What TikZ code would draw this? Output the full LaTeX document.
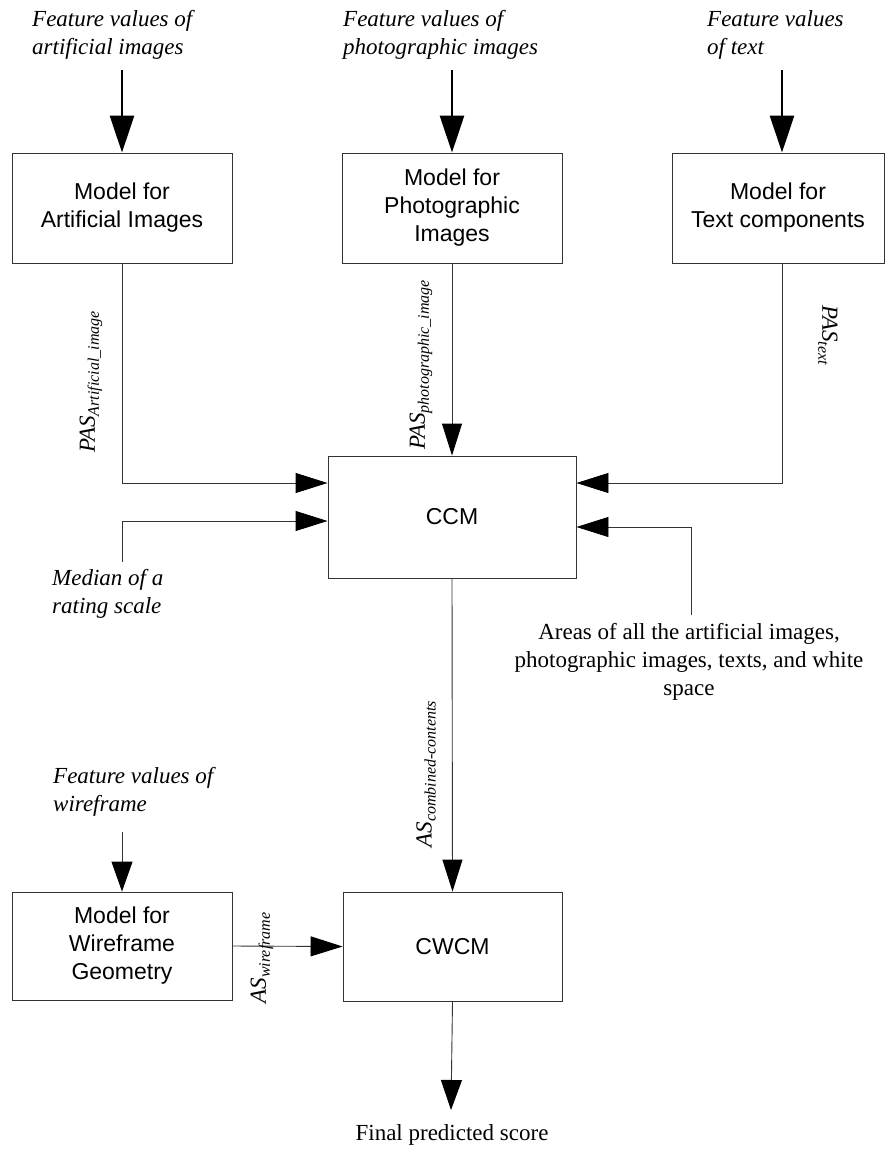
\documentclass[tikz,border=0pt]{standalone}
\usepackage{fontspec}
\setmainfont{Liberation Serif}
\setsansfont{Liberation Sans}
\usetikzlibrary{arrows.meta}
\newcommand\sublabel[2]{#1\raisebox{-4pt}{\fontsize{16}{16}\selectfont #2}}
\begin{document}
\begin{tikzpicture}[x=1pt,y=-1pt,
  modelbox/.style={draw=black!80, line width=0.9pt, rectangle, inner sep=0pt,
    align=center, font=\sffamily\fontsize{23}{28}\selectfont},
  note/.style={inner sep=0pt, align=left, font=\itshape\fontsize{23}{28}\selectfont},
  plain/.style={inner sep=0pt, align=center, font=\fontsize{23}{28}\selectfont},
  sublbl/.style={inner sep=0pt, font=\itshape\fontsize{23}{28}\selectfont},
  feed/.style={line width=2.6pt, -{Triangle[length=37pt,width=24pt]}},
  flow/.style={draw=black!80, line width=0.9pt, -{Triangle[length=32pt,width=20pt,fill=black,color=black]}},
  smallflow/.style={draw=black!80, line width=0.9pt, -{Triangle[length=30pt,width=21pt,fill=black,color=black]}}]
\useasboundingbox (0,0) rectangle (886,1153);

% models
\node[modelbox, minimum width=220pt, minimum height=110pt] (art) at (122,208) {Model for\\Artificial Images};
\node[modelbox, minimum width=220pt, minimum height=110pt] (pho) at (452,208) {Model for\\Photographic\\Images};
\node[modelbox, minimum width=212pt, minimum height=110pt] (txt) at (778,208) {Model for\\Text components};
\node[modelbox, minimum width=248pt, minimum height=122pt] (ccm) at (452,517) {CCM};
\node[modelbox, minimum width=220pt, minimum height=108pt] (wf) at (122,946) {Model for\\Wireframe\\Geometry};
\node[modelbox, minimum width=219pt, minimum height=109pt] (cwcm) at (452.5,946.5) {CWCM};

% inputs
\node[note, anchor=west] (fart) at (32,35) {Feature values of\\artificial images};
\node[note, anchor=west] (fpho) at (343,35) {Feature values of\\photographic images};
\node[note, anchor=west] (ftxt) at (707,35) {Feature values\\of text};
\node[note, anchor=west] (fwf) at (53,792) {Feature values of\\wireframe};
\node[note, anchor=west] (med) at (52,594) {Median of a\\rating scale};
\node[plain] (areas) at (689,662) {Areas of all the artificial images,\\photographic images, texts, and white\\space};
\node[plain] (final) at (452,1135) {Final predicted score};

\coordinate (artin) at (122,70);
\coordinate (phoin) at (452,70);
\coordinate (txtin) at (782,70);
\coordinate (wfin) at (122,832);
\coordinate (medin) at (122,562);
\coordinate (areain) at (691,615);
\coordinate (finout) at (451,1110);

% feature inputs
\draw[feed] (artin) -- (artin |- art.north);
\draw[feed] (phoin) -- (phoin |- pho.north);
\draw[feed] (txtin) -- (txtin |- txt.north);
\draw[smallflow] (wfin) -- (wfin |- wf.north);

% into the combined-contents model
\draw[flow] (art.south) |- ([yshift=34pt]ccm.west);
\draw[flow] (medin) |- ([yshift=-4pt]ccm.west);
\draw[flow] (pho.south) -- (ccm.north);
\draw[flow] (txtin |- txt.south) |- ([yshift=34pt]ccm.east);
\draw[flow] (areain) |- ([yshift=-10pt]ccm.east);

% into the combined wireframe-contents model
\draw[flow] (ccm.south) -- (cwcm.north);
\draw[flow] (wf.east) -- (cwcm.west);
\draw[smallflow] (cwcm.south) -- (finout);

% scores on the connectors
\node[sublbl, rotate=90] (lart) at (91,382) {\sublabel{PAS}{Artificial\_image}};
\node[sublbl, rotate=90] (lpho) at (421,365) {\sublabel{PAS}{photographic\_image}};
\node[sublbl, rotate=-90] (ltxt) at (828,335) {\sublabel{PAS}{text}};
\node[sublbl, rotate=90] (lcc) at (426,774) {\sublabel{AS}{combined-contents}};
\node[sublbl, rotate=90] (lwf) at (262,958) {\sublabel{AS}{wireframe}};
\end{tikzpicture}
\end{document}
